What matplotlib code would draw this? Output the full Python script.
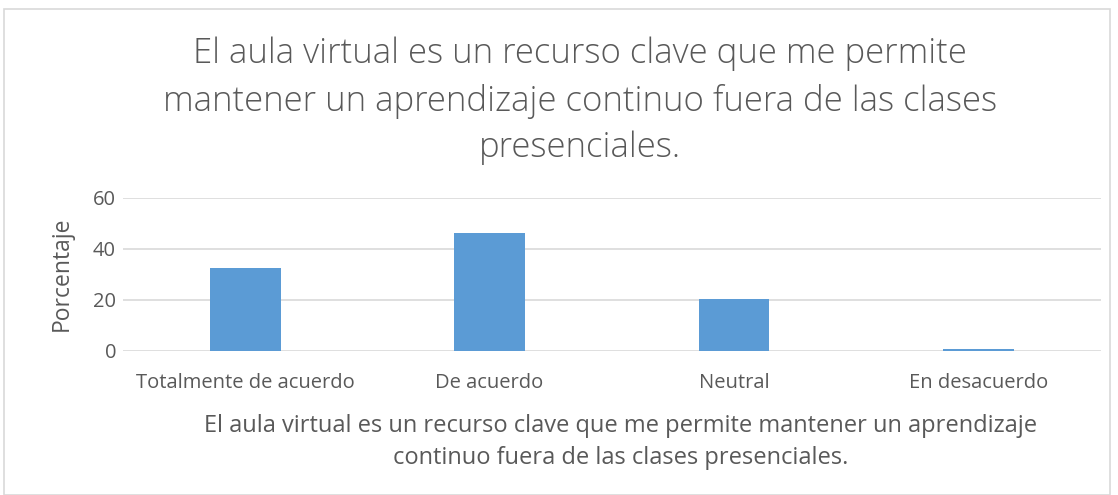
import matplotlib.pyplot as plt
from matplotlib.patches import Rectangle

categories = ['Totalmente de acuerdo', 'De acuerdo', 'Neutral', 'En desacuerdo']
values = [32.3, 46.0, 20.2, 0.6]
yticks = [0, 20, 40, 60]

title = ('El aula virtual es un recurso clave que me permite\n'
         'mantener un aprendizaje continuo fuera de las clases\n'
         'presenciales.')
xlabel = ('El aula virtual es un recurso clave que me permite mantener un aprendizaje\n'
          'continuo fuera de las clases presenciales.')

plt.rcParams['font.family'] = ['Open Sans', 'DejaVu Sans']
text_color = '#595959'

fig = plt.figure(figsize=(11.18, 4.95), dpi=100)
fig.patches.append(Rectangle((4 / 1118, 0.0), 1106 / 1118, 1 - 9 / 495,
                             transform=fig.transFigure, fill=False,
                             edgecolor='#d9d9d9', linewidth=1.2))

ax = fig.add_axes([0.110, 0.2915, 0.8745, 0.3095])
x = range(len(categories))
ax.bar(x, values, width=0.29, color='#5b9bd5', zorder=3)

ax.set_xlim(-0.5, len(categories) - 0.5)
ax.set_ylim(0, 60)
ax.set_yticks(yticks)
ax.set_xticks(list(x))
ax.set_xticklabels(categories)
ax.grid(axis='y', color='#d9d9d9', linewidth=1.2, zorder=0)
for s in ax.spines.values():
    s.set_visible(False)
ax.tick_params(axis='x', length=0, labelsize=14.5, labelcolor=text_color, pad=16)
ax.tick_params(axis='y', length=0, labelsize=14.5, labelcolor=text_color, pad=5)

ax.set_ylabel('Porcentaje', fontsize=16.5, color=text_color, labelpad=14)
fig.text(0.555, 1 - 442 / 495, xlabel, ha='center', va='center',
         fontsize=17, color=text_color, linespacing=1.4)

fig.text(0.519, 1 - 101 / 495, title, ha='center', va='center', fontsize=25,
         color=text_color, linespacing=1.45, fontweight='light')

fig.savefig('out.png', dpi=100)
